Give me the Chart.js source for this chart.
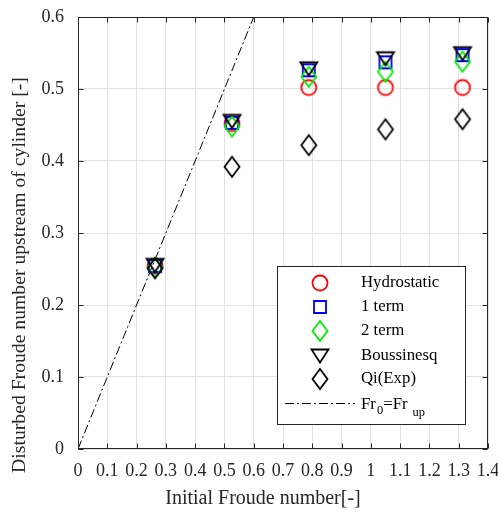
<!DOCTYPE html>
<html>
<head>
<meta charset="utf-8">
<script src="https://cdn.jsdelivr.net/npm/chart.js@4.4.0/dist/chart.umd.min.js"></script>
<style>
html,body{margin:0;padding:0;background:#fff}
canvas{display:block}
</style>
</head>
<body>
<canvas id="froudeChart" width="498" height="512"></canvas>
<script>
// values
const initialFroude = [0.263, 0.526, 0.788, 1.05, 1.313];
const hydrostatic = [0.254, 0.452, 0.502, 0.502, 0.502];
const oneTerm = [0.254, 0.453, 0.526, 0.537, 0.547];
const twoTerm = [0.252, 0.448, 0.517, 0.524, 0.538];
const boussinesq = [0.255, 0.455, 0.528, 0.542, 0.549];
const qiExp = [0.251, 0.392, 0.422, 0.444, 0.458];
const equalLineX = [0, 0.6];
const equalLineY = [0, 0.6];

const seriesNames = ['Hydrostatic', '1 term', '2 term', 'Boussinesq', 'Qi(Exp)'];
const xTickValues = [0, 0.1, 0.2, 0.3, 0.4, 0.5, 0.6, 0.7, 0.8, 0.9, 1, 1.1, 1.2, 1.3, 1.4];
const xTickLabels = ['0', '0.1', '0.2', '0.3', '0.4', '0.5', '0.6', '0.7', '0.8', '0.9', '1', '1.1', '1.2', '1.3', '1.4'];
const yTickValues = [0, 0.1, 0.2, 0.3, 0.4, 0.5, 0.6];
const yTickLabels = ['0', '0.1', '0.2', '0.3', '0.4', '0.5', '0.6'];
const xTitle = 'Initial Froude number[-]';
const yTitle = 'Disturbed Froude number upstream of cylinder [-]';

const FONT = "'Liberation Serif', 'DejaVu Serif', serif";
const TXT = '#262626';

// matlab-ish open markers
function marker(shape, color) {
    const c = document.createElement('canvas');
    c.width = 24; c.height = 24;
    const g = c.getContext('2d');
    g.strokeStyle = color;
    g.lineWidth = 1.8;
    g.beginPath();
    if (shape === 'circle') {
        g.arc(12, 12, 7.5, 0, Math.PI * 2);
    } else if (shape === 'square') {
        g.rect(6, 6, 12, 12);
    } else if (shape === 'diamond') {
        g.moveTo(12, 2); g.lineTo(19.5, 12); g.lineTo(12, 22); g.lineTo(4.5, 12); g.closePath();
    } else if (shape === 'tri') {
        g.moveTo(3.5, 5.5); g.lineTo(20.5, 5.5); g.lineTo(12, 18.5); g.closePath();
    }
    g.stroke();
    return c;
}

const markers = [
    marker('circle', '#ff0000'),
    marker('square', '#0000ff'),
    marker('diamond', '#00ee00'),
    marker('tri', '#000000'),
    marker('diamond', '#000000')
];
const seriesValues = [hydrostatic, oneTerm, twoTerm, boussinesq, qiExp];

function points(xs, ys) {
    return xs.map((x, i) => ({x: x, y: ys[i]}));
}

const datasets = seriesValues.map((vals, i) => ({
    type: 'scatter',
    label: seriesNames[i],
    data: points(initialFroude, vals),
    pointStyle: markers[i],
    pointRadius: 8,
    order: 5 - i
}));
datasets.push({
    type: 'line',
    label: 'Fr0=Frup',
    data: points(equalLineX, equalLineY),
    borderColor: '#000',
    borderWidth: 1,
    borderDash: [9, 3, 2, 3],
    pointRadius: 0,
    fill: false,
    order: 6
});

const framePlugin = {
    id: 'frame',
    afterDatasetsDraw(chart) {
        const {ctx, chartArea: a, scales} = chart;
        const L = Math.round(a.left) + 0.5, R = Math.round(a.right) - 0.5;
        const T = Math.round(a.top) + 0.5, B = Math.round(a.bottom) - 0.5;
        ctx.save();
        ctx.strokeStyle = TXT;
        ctx.lineWidth = 1;
        ctx.strokeRect(L, T, R - L, B - T);
        ctx.beginPath();
        xTickValues.forEach(v => {
            const px = Math.round(scales.x.getPixelForValue(v)) + 0.5;
            ctx.moveTo(px, B); ctx.lineTo(px, B - 5);
            ctx.moveTo(px, T); ctx.lineTo(px, T + 5);
        });
        yTickValues.forEach(v => {
            const py = Math.round(scales.y.getPixelForValue(v)) + 0.5;
            ctx.moveTo(L, py); ctx.lineTo(L + 5, py);
            ctx.moveTo(R, py); ctx.lineTo(R - 5, py);
        });
        ctx.stroke();
        ctx.restore();
    },
    afterDraw(chart) {
        const ctx = chart.ctx;
        ctx.save();

        // axis titles (they sit off-centre in the original)
        ctx.fillStyle = TXT;
        ctx.font = '20px ' + FONT;
        ctx.textAlign = 'center';
        ctx.textBaseline = 'middle';
        ctx.fillText(xTitle, 263, 499);
        ctx.save();
        ctx.translate(20, 275);
        ctx.rotate(-Math.PI / 2);
        ctx.font = '19.7px ' + FONT;
        ctx.fillText(yTitle, 0, 0);
        ctx.restore();
        ctx.textAlign = 'left';

        const box = {l: 277.5, t: 266.5, r: 465.5, b: 424.5};
        ctx.fillStyle = '#fff';
        ctx.fillRect(box.l, box.t, box.r - box.l, box.b - box.t);
        ctx.strokeStyle = TXT;
        ctx.lineWidth = 1;
        ctx.strokeRect(box.l, box.t, box.r - box.l, box.b - box.t);

        const rows = [283, 307, 331, 356, 379];
        ctx.font = '16.8px ' + FONT;
        ctx.fillStyle = '#000';
        ctx.textBaseline = 'middle';
        seriesNames.forEach((name, i) => {
            const m = markers[i];
            ctx.drawImage(m, 320 - m.width / 2, rows[i] - m.height / 2);
            ctx.fillText(name, 361, rows[i]);
        });

        // dash-dot sample
        const ly = 403.5;
        ctx.strokeStyle = '#000';
        ctx.setLineDash([9, 3, 2, 3]);
        ctx.beginPath();
        ctx.moveTo(285, ly); ctx.lineTo(355, ly);
        ctx.stroke();
        ctx.setLineDash([]);

        // Fr_0=Fr_up
        ctx.textBaseline = 'alphabetic';
        const base = 409;
        let x = 361;
        ctx.font = '16.8px ' + FONT;
        ctx.fillText('Fr', x, base); x += ctx.measureText('Fr').width + 1;
        ctx.font = '12.5px ' + FONT;
        ctx.fillText('0', x, base + 5); x += ctx.measureText('0').width;
        ctx.font = '16.8px ' + FONT;
        ctx.fillText('=Fr', x, base); x += ctx.measureText('=Fr').width + 5;
        ctx.font = '12.5px ' + FONT;
        ctx.fillText('up', x, base + 7);
        ctx.restore();
    }
};

new Chart(document.getElementById('froudeChart'), {
    data: {datasets: datasets},
    options: {
        responsive: false,
        animation: false,
        devicePixelRatio: 1,
        layout: {padding: {top: 17, right: 10, left: 0, bottom: 0}},
        plugins: {
            legend: {display: false},
            tooltip: {enabled: false}
        },
        scales: {
            x: {
                type: 'linear',
                min: 0,
                max: 1.4,
                afterBuildTicks: s => { s.ticks = xTickValues.map(v => ({value: v})); },
                afterFit: s => {
                    s.height = 63;
                    s.paddingLeft = 0; s.paddingRight = 0;
                },
                grid: {color: '#e2e2e2', lineWidth: 1, drawTicks: false},
                border: {display: false},
                ticks: {
                    padding: 11,
                    color: TXT,
                    font: {family: FONT, size: 18},
                    maxRotation: 0,
                    autoSkip: false,
                    callback: (v, i) => xTickLabels[i]
                }
            },
            y: {
                type: 'linear',
                min: 0,
                max: 0.6,
                afterBuildTicks: s => { s.ticks = yTickValues.map(v => ({value: v})); },
                afterFit: s => {
                    s.width = 78;
                    s.paddingTop = 0; s.paddingBottom = 0;
                },
                grid: {color: '#e2e2e2', lineWidth: 1, drawTicks: false},
                border: {display: false},
                ticks: {
                    padding: 14,
                    color: TXT,
                    font: {family: FONT, size: 18},
                    autoSkip: false,
                    callback: (v, i) => yTickLabels[i]
                }
            }
        }
    },
    plugins: [framePlugin]
});
</script>
</body>
</html>
